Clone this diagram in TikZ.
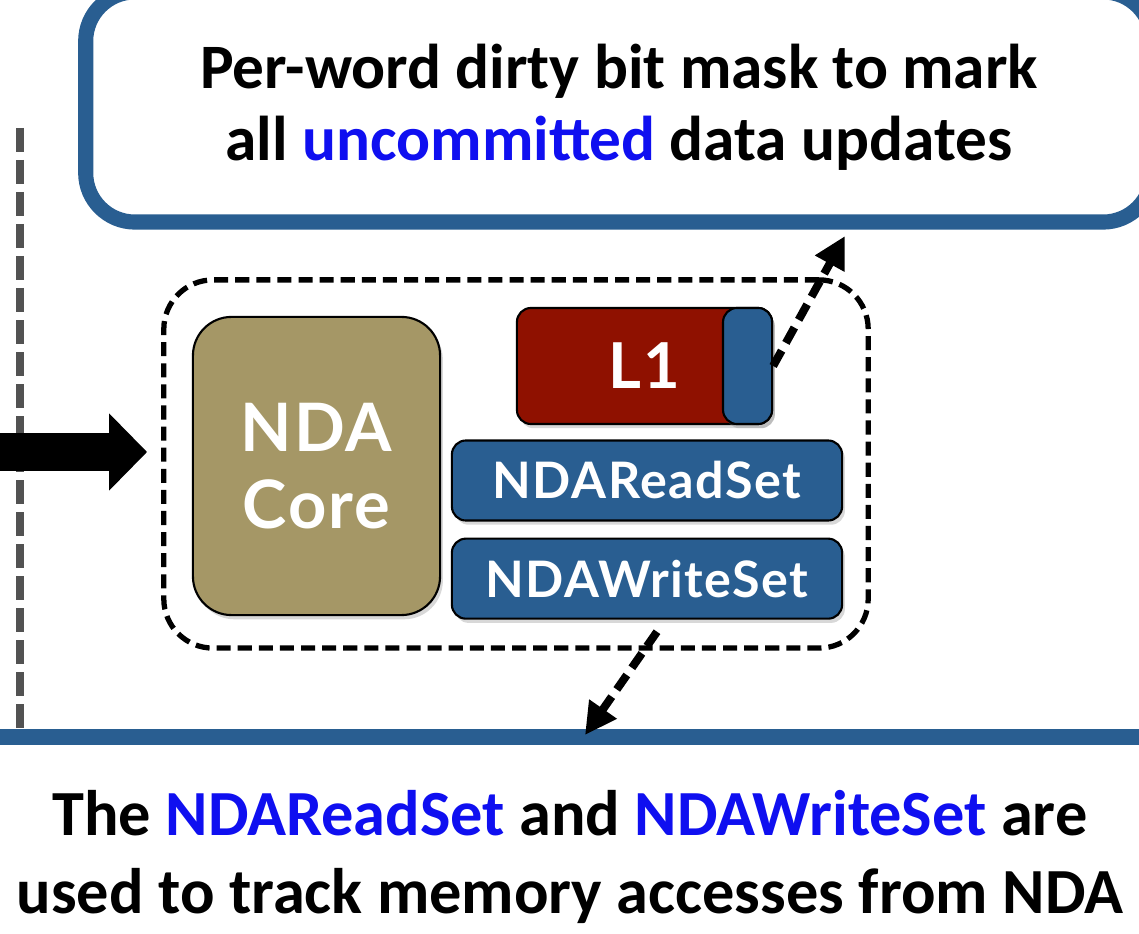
\documentclass[tikz,border=0pt]{standalone}
\usepackage{fontspec}
\setmainfont{Carlito}
\newfontfamily\gillsans{Lato}[LetterSpace=3]
\usetikzlibrary{positioning,arrows.meta,shadows}

\definecolor{barblue}{RGB}{41,94,145}
\definecolor{coretan}{RGB}{165,151,102}
\definecolor{cachered}{RGB}{143,17,0}
\definecolor{wordblue}{RGB}{15,15,240}
\definecolor{divgrey}{RGB}{82,82,82}

\tikzset{
  chip/.style={draw=black, line width=0.6pt, inner sep=0pt, text=white,
    font=\gillsans\bfseries,
    drop shadow={shadow xshift=0.8pt, shadow yshift=-1.2pt, opacity=0.3}},
  setbox/.style={chip, fill=barblue, minimum width=3.9cm, minimum height=0.8cm,
    rounded corners=4pt, font=\gillsans\bfseries\fontsize{14.3}{17}\selectfont},
  dasharrow/.style={line width=2.3pt, dash pattern=on 5pt off 2.5pt,
    -{Triangle[length=9pt, width=9pt]}}
}

\begin{document}
\begin{tikzpicture}[x=0.01cm, y=-0.01cm]
    \clip (0,0) rectangle (1139,934);
    \fill[white] (0,0) rectangle (1139,934);

    \node[draw=barblue, line width=4.3pt, fill=white, rounded corners=14pt,
          minimum width=10.66cm, minimum height=2.30cm, align=center,
          font=\bfseries\fontsize{18}{20.4}\selectfont] (maskbox) at (619,107)
          {Per-word dirty bit mask to mark\\all \textcolor{wordblue}{uncommitted} data updates};

    \node[draw, line width=1.5pt, dash pattern=on 4pt off 2pt, rounded corners=14pt,
          minimum width=7.04cm, minimum height=3.68cm] (frame) at (516,464) {};

    \node[chip, fill=coretan, rounded corners=11pt, minimum width=2.47cm, minimum height=2.98cm,
          align=center, font=\gillsans\bfseries\fontsize{19}{22}\selectfont] (core) at (316.5,466) {NDA\\Core};
    \node[chip, fill=cachered, rounded corners=4pt, minimum width=2.55cm, minimum height=1.16cm,
          font=\gillsans\bfseries\fontsize{18}{20}\selectfont] (lone) at (644.5,366) {L1};
    \node[chip, fill=barblue, rounded corners=4pt, minimum width=0.49cm, minimum height=1.16cm,
          anchor=east] (lonetag) at (lone.east) {};
    \node[setbox] (readset) at (647,480.5) {NDAReadSet};
    \node[setbox, below=0.16cm of readset] (writeset) {NDAWriteSet};

    \coordinate (divtop) at (20,128);
    \coordinate (divbot) at (20,730);
    \draw[divgrey, line width=2pt, dash pattern=on 6.8pt off 2.3pt] (divtop) -- (divbot);

    \coordinate (hostin) at (-5,452);
    \draw[line width=10.8pt, -{Triangle[length=10.8pt, width=21.3pt]}, shorten >=4pt]
          (hostin) -- (hostin -| frame.west);

    \coordinate (barwest) at (0,737);
    \coordinate (bareast) at (1139,737);
    \draw[barblue, line width=4.55pt] (barwest) -- (bareast);

    \coordinate (masktip) at (845,236);
    \coordinate (memtip) at (585,735);
    \draw[dasharrow] (lonetag.east) -- (masktip);
    \draw[dasharrow] ([shift={(10,12)}]writeset.south) -- (memtip);

    \node[align=center, font=\bfseries\fontsize{18.3}{22}\selectfont] (note) at (570,857)
          {The \textcolor{wordblue}{NDAReadSet} and \textcolor{wordblue}{NDAWriteSet} are\\
           used to track memory accesses from NDA};
\end{tikzpicture}
\end{document}
